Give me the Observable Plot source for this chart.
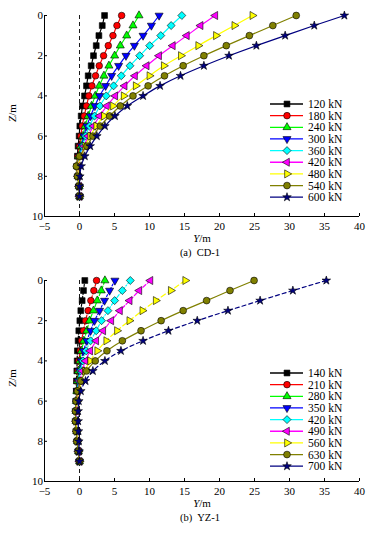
<!DOCTYPE html>
<html><head><meta charset="utf-8">
<script src="https://cdn.jsdelivr.net/npm/d3@7"></script>
<script src="https://cdn.jsdelivr.net/npm/@observablehq/plot@0.6"></script>
<style>
body{margin:0;background:#fff;font-family:"Liberation Serif","Times New Roman",serif;}
#wrap{width:377px;}
svg{display:block}
</style></head><body><div id="wrap"></div>
<script>
// depth below ground, m
const depth = [0,0.5,1,1.5,2,2.5,3,3.5,4,4.5,5,5.5,6,6.5,7,7.5,8,8.5,9];
const xTicks = [-5,0,5,10,15,20,25,30,35,40];
const zTicks = [0,2,4,6,8,10];

// (a) CD-1
const cdLoads = ["120 kN","180 kN","240 kN","300 kN","360 kN","420 kN","480 kN","540 kN","600 kN"];
const cd120 = [3.58,3.25,2.77,2.39,2.0,1.67,1.24,1.0,0.72,0.43,0.24,0.05,-0.05,-0.2,-0.3,-0.35,-0.2,-0.05,0];
const cd180 = [6.02,5.35,4.78,4.11,3.44,2.82,2.29,1.77,1.34,1.0,0.67,0.38,0.19,0.0,-0.2,-0.33,-0.2,-0.05,0];
const cd240 = [8.5,7.64,6.74,5.83,5.02,4.2,3.49,2.82,2.25,1.72,1.24,0.81,0.48,0.19,-0.1,-0.3,-0.2,-0.05,0];
const cd300 = [11.37,10.27,9.08,7.84,6.64,5.59,4.59,3.73,2.87,2.2,1.58,1.05,0.62,0.29,0.0,-0.3,-0.2,-0.05,0];
const cd360 = [14.62,13.09,11.61,10.03,8.6,7.21,5.97,4.87,3.82,2.91,2.15,1.43,0.86,0.43,0.05,-0.3,-0.2,-0.05,0];
const cd420 = [19.4,17.3,15.34,13.33,11.37,9.6,7.93,6.45,5.11,3.92,2.87,2.0,1.24,0.67,0.19,-0.25,-0.2,-0.05,0];
const cd480 = [24.7,22.12,19.49,16.96,14.48,12.04,9.99,8.03,6.31,4.78,3.49,2.39,1.53,0.81,0.24,-0.2,-0.2,-0.05,0];
const cd540 = [30.96,27.62,24.27,20.97,17.77,14.81,12.14,9.8,7.64,5.83,4.3,2.96,1.91,1.05,0.0,-0.45,-0.3,-0.1,0];
const cd600 = [37.84,33.54,29.38,25.27,21.36,17.77,14.43,11.51,9.08,6.83,5.06,3.63,2.48,1.53,0.76,0.24,0.05,0,0];

// (b) YZ-1
const yzLoads = ["140 kN","210 kN","280 kN","350 kN","420 kN","490 kN","560 kN","630 kN","700 kN"];
const yz140 = [0.76,0.57,0.38,0.19,0.05,-0.1,-0.2,-0.3,-0.33,-0.38,-0.43,-0.45,-0.48,-0.5,-0.5,-0.4,-0.3,-0.15,0];
const yz210 = [2.44,2.05,1.62,1.24,0.86,0.57,0.29,0.1,-0.1,-0.24,-0.33,-0.4,-0.45,-0.5,-0.5,-0.4,-0.3,-0.15,0];
const yz280 = [3.63,3.11,2.53,2.0,1.43,1.05,0.62,0.29,0.05,-0.15,-0.28,-0.38,-0.45,-0.5,-0.5,-0.4,-0.3,-0.15,0];
const yz350 = [5.06,4.3,3.58,2.87,2.15,1.58,1.05,0.57,0.24,0.0,-0.2,-0.33,-0.43,-0.5,-0.5,-0.4,-0.3,-0.15,0];
const yz420 = [7.26,6.12,5.02,4.06,3.15,2.39,1.58,0.96,0.48,0.14,-0.1,-0.28,-0.4,-0.48,-0.5,-0.4,-0.3,-0.15,0];
const yz490 = [10.13,8.55,7.17,5.78,4.54,3.39,2.39,1.53,0.86,0.38,0.05,-0.2,-0.35,-0.45,-0.48,-0.4,-0.3,-0.15,0];
const yz560 = [15.1,13.04,10.89,8.98,7.12,5.35,3.82,2.53,1.53,0.76,0.29,-0.05,-0.3,-0.45,-0.48,-0.4,-0.3,-0.15,0];
const yz630 = [24.94,21.5,18.16,14.81,11.66,8.79,6.12,3.92,2.25,1.0,0.19,-0.29,-0.48,-0.57,-0.57,-0.48,-0.38,-0.19,0];
const yz700 = [35.26,30.48,25.8,21.21,16.82,12.71,9.08,5.92,3.63,1.91,0.86,0.19,-0.1,-0.19,-0.19,-0.15,-0.1,-0.05,0];

const colors = ["#000000","#ff0000","#00ff00","#0000ff","#00ffff","#ff00ff","#ffff00","#808000","#000080"];

function tri(angle) {
  return {draw(ctx, size) {
    const r = Math.sqrt(size / (3 * Math.sqrt(3) / 4));
    for (let i = 0; i < 3; i++) {
      const a = angle + i * 2 * Math.PI / 3;
      const x = r * Math.cos(a), y = r * Math.sin(a);
      if (i === 0) ctx.moveTo(x, y); else ctx.lineTo(x, y);
    }
    ctx.closePath();
  }};
}
const symbols = [d3.symbolSquare, d3.symbolCircle, tri(-Math.PI/2), tri(Math.PI/2), d3.symbolDiamond2, tri(Math.PI), tri(0), d3.symbolCircle, d3.symbolStar];
const radii = [3.3, 3.3, 3.0, 3.0, 3.6, 3.0, 3.0, 3.4, 2.7];

function panel(loads, series, dashes, captionText, legendTop) {
  const marks = [
    Plot.ruleX([0], {stroke: "#000", strokeWidth: 0.9, strokeDasharray: "4,3"}),
    Plot.ruleX([-5], {stroke: "#000", strokeWidth: 1}),
    Plot.ruleY([10], {stroke: "#000", strokeWidth: 1}),
    Plot.axisX({ticks: xTicks, tickSize: -3, tickPadding: 9, tickFormat: d3.format("d"), label: null, fontSize: 11}),
    Plot.axisY({ticks: zTicks, tickSize: -3, tickPadding: 4.5, label: null, fontSize: 11})
  ];
  series.forEach((vals, i) => {
    const d = vals.map((v, j) => ({disp: v, z: depth[j]}));
    marks.push(Plot.line(d, {x: "disp", y: "z", stroke: colors[i], strokeWidth: 1.2, strokeDasharray: dashes[i], curve: "monotone-y"}));
    marks.push(Plot.dot(d, {x: "disp", y: "z", symbol: symbols[i], r: radii[i], fill: colors[i], stroke: "#000", strokeWidth: 0.6}));
  });
  const chart = Plot.plot({
    width: 377, height: 265,
    marginTop: 15, marginBottom: 49, marginLeft: 44, marginRight: 18,
    x: {domain: [-5, 40]},
    y: {domain: [0, 10], reverse: true},
    style: {fontFamily: "'Liberation Serif', 'Times New Roman', serif", fontSize: "11px", background: "white", color: "#000"},
    marks
  });
  const svg = d3.select(chart);
  const f = "'Liberation Serif', 'Times New Roman', serif";
  const yl = svg.append("text").attr("x", 202).attr("y", 242).attr("text-anchor", "middle")
    .attr("font-family", f).attr("font-size", 11).attr("fill", "#000");
  yl.append("tspan").attr("font-style", "italic").text("Y");
  yl.append("tspan").text("/m");
  const zl = svg.append("text").attr("transform", "translate(16,113) rotate(-90)").attr("text-anchor", "middle")
    .attr("font-family", f).attr("font-size", 11).attr("fill", "#000");
  zl.append("tspan").attr("font-style", "italic").text("Z");
  zl.append("tspan").text("/m");
  svg.append("text").attr("x", 200).attr("y", 256).attr("text-anchor", "middle")
    .attr("font-family", f).attr("font-size", 10.5).attr("fill", "#000")
    .attr("xml:space", "preserve").style("white-space", "pre").text(captionText);
  const lg = svg.append("g").attr("transform", `translate(270,${legendTop})`);
  loads.forEach((name, i) => {
    const g = lg.append("g").attr("transform", `translate(0,${i * 11.65})`);
    g.append("line").attr("x1", 0).attr("x2", 33).attr("stroke", colors[i]).attr("stroke-width", 1.3);
    g.append("path").attr("transform", "translate(17,0)")
      .attr("d", d3.symbol(symbols[i], Math.PI * radii[i] * radii[i])())
      .attr("fill", colors[i]).attr("stroke", "#000").attr("stroke-width", 0.6);
    g.append("text").attr("x", 38).attr("y", 4).attr("text-anchor", "start")
      .attr("font-family", f).attr("font-size", 11.5)
      .attr("fill", "#000").text(name);
  });
  return chart;
}

const wrap = document.getElementById("wrap");
wrap.appendChild(panel(cdLoads, [cd120,cd180,cd240,cd300,cd360,cd420,cd480,cd540,cd600],
  [null,null,null,null,null,null,null,null,null], "(a)  CD-1", 104));
wrap.appendChild(panel(yzLoads, [yz140,yz210,yz280,yz350,yz420,yz490,yz560,yz630,yz700],
  ["2,2","2,2","4,2","2,2","4,2,1,2","4,2","5,3",null,"4,3"], "(b)  YZ-1", 108));
</script></body></html>
